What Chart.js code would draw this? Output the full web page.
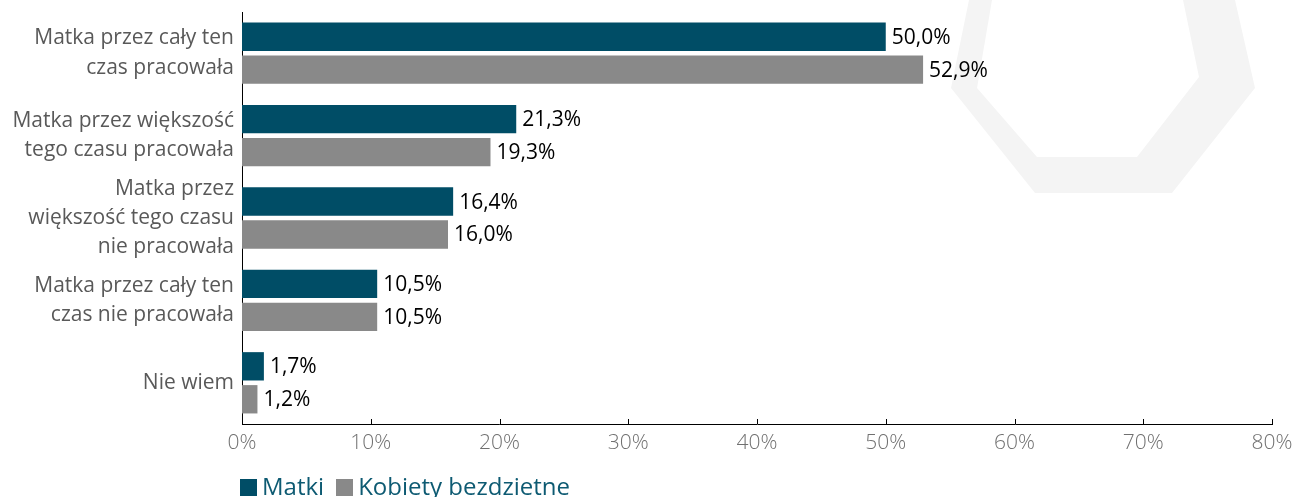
<!DOCTYPE html>
<html lang="pl">
<head>
<meta charset="UTF-8">
<title>Praca matki</title>
<style>
  body { margin: 0; background: #fff; font-family: "Open Sans", sans-serif; }
  #wrap { position: relative; width: 1301px; height: 497px; }
  #legend { position: absolute; left: 240px; top: 469px; font-size: 24px; color: #0d5a72; white-space: nowrap; }
  #legend span.box { display: inline-block; width: 17px; height: 17px; margin-right: 5px; vertical-align: -1px; }
  #legend span.item { margin-right: 12px; }
</style>
</head>
<body>
<div id="wrap">
  <canvas id="chart" width="1301" height="497"></canvas>
  <div id="legend"></div>
</div>
<script src="https://cdn.jsdelivr.net/npm/chart.js"></script>
<script>
const categories = [
  ['Matka przez cały ten', 'czas pracowała'],
  ['Matka przez większość', 'tego czasu pracowała'],
  ['Matka przez', 'większość tego czasu', 'nie pracowała'],
  ['Matka przez cały ten', 'czas nie pracowała'],
  'Nie wiem'
];
const seriesNames = ['Matki', 'Kobiety bezdzietne'];
const matki = [50.0, 21.3, 16.4, 10.5, 1.7];
const bezdzietne = [52.9, 19.3, 16.0, 10.5, 1.2];
const seriesColors = ['#004d66', '#898989'];
const xTicks = [0, 10, 20, 30, 40, 50, 60, 70, 80];

// faint heptagon in the background
const backdrop = {
  id: 'backdrop',
  beforeDraw(chart) {
    const ctx = chart.ctx;
    const outer = [[969, 0], [951, 88], [1035, 193], [1172, 193], [1255, 88], [1235, 0]];
    const inner = [[992, 0], [977, 88], [1037, 157], [1137, 157], [1199, 77], [1183, 0]];
    ctx.save();
    ctx.fillStyle = '#f4f4f4';
    ctx.beginPath();
    outer.forEach((p, i) => i ? ctx.lineTo(p[0], p[1]) : ctx.moveTo(p[0], p[1]));
    ctx.closePath();
    inner.forEach((p, i) => i ? ctx.lineTo(p[0], p[1]) : ctx.moveTo(p[0], p[1]));
    ctx.closePath();
    ctx.fill('evenodd');
    ctx.restore();
  }
};

// value labels at the end of each bar
const valueLabels = {
  id: 'valueLabels',
  afterDatasetsDraw(chart) {
    const ctx = chart.ctx;
    ctx.save();
    ctx.font = '21px "Open Sans", sans-serif';
    ctx.fillStyle = '#000';
    ctx.textBaseline = 'middle';
    chart.data.datasets.forEach((ds, di) => {
      chart.getDatasetMeta(di).data.forEach((bar, i) => {
        const txt = ds.data[i].toFixed(1).replace('.', ',') + '%';
        ctx.fillText(txt, bar.x + 6, bar.y + 1);
      });
    });
    ctx.restore();
  }
};

// small tick marks pointing up from the x axis
const innerTicks = {
  id: 'innerTicks',
  afterDraw(chart) {
    const ctx = chart.ctx;
    const x = chart.scales.x;
    const y0 = chart.chartArea.bottom;
    ctx.save();
    ctx.strokeStyle = '#000';
    ctx.lineWidth = 1;
    ctx.beginPath();
    xTicks.forEach(v => {
      const px = Math.round(x.getPixelForValue(v)) + 0.5;
      ctx.moveTo(px, y0);
      ctx.lineTo(px, y0 - 5);
    });
    ctx.stroke();
    ctx.restore();
  }
};

new Chart(document.getElementById('chart'), {
  type: 'bar',
  data: {
    labels: categories,
    datasets: [
      { label: seriesNames[0], data: matki, backgroundColor: seriesColors[0] },
      { label: seriesNames[1], data: bezdzietne, backgroundColor: seriesColors[1] }
    ]
  },
  options: {
    indexAxis: 'y',
    responsive: false,
    animation: false,
    layout: { padding: { top: 12, right: 29, left: 0, bottom: 0 } },
    datasets: { bar: { categoryPercentage: 0.8, barPercentage: 0.86 } },
    plugins: {
      legend: { display: false },
      tooltip: { enabled: false }
    },
    scales: {
      x: {
        min: 0,
        max: 80,
        afterFit(s) { s.height = 73; s.paddingLeft = 0; s.paddingRight = 0; },
        afterBuildTicks(s) { s.ticks = xTicks.map(v => ({ value: v })); },
        grid: { display: false, drawTicks: false },
        border: { display: true, color: '#000', width: 1 },
        ticks: {
          padding: 6,
          color: '#707070',
          font: { family: 'Open Sans', size: 21, weight: 300 },
          callback: v => v + '%'
        }
      },
      y: {
        afterFit(s) { s.width = 242; s.paddingTop = 0; s.paddingBottom = 0; },
        grid: { display: false, drawTicks: false },
        border: { display: true, color: '#000', width: 1 },
        ticks: {
          autoSkip: false,
          padding: 8,
          color: '#595959',
          font: { family: 'Open Sans', size: 21, lineHeight: 1.4 }
        }
      }
    }
  },
  plugins: [backdrop, valueLabels, innerTicks]
});

const legend = document.getElementById('legend');
seriesNames.forEach((name, i) => {
  const item = document.createElement('span');
  item.className = 'item';
  item.innerHTML = '<span class="box" style="background:' + seriesColors[i] + '"></span>' + name;
  legend.appendChild(item);
});
</script>
</body>
</html>
